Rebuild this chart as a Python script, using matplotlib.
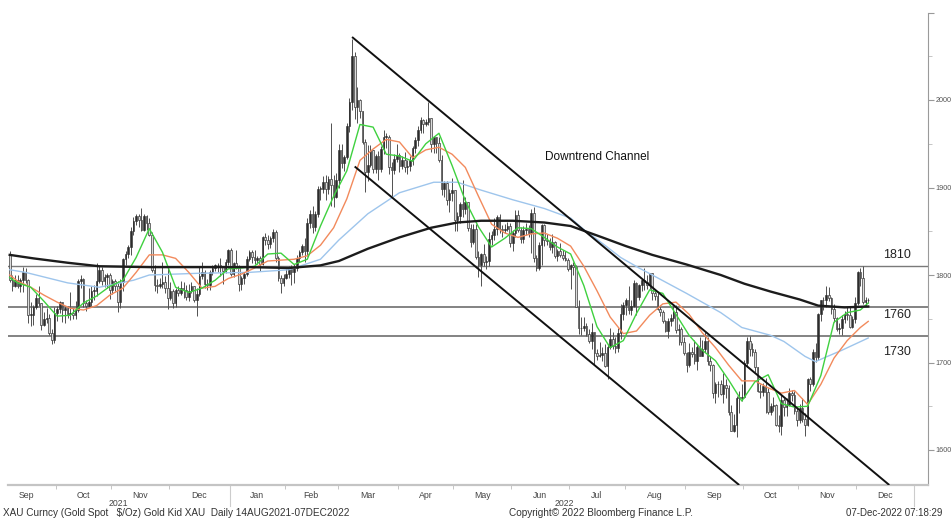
import matplotlib
matplotlib.use("Agg")

import matplotlib.pyplot as plt
import matplotlib.transforms as mtransforms
import numpy as np
import pandas as pd

START = "2021-09-07"
END = "2022-12-07"

first_open = 1823

# daily closes, one row per month (Sep 2021 .. Dec 2022)
closes = [
    1794, 1788, 1794, 1788, 1794, 1804, 1794, 1754, 1754, 1764, 1774, 1768, 1743, 1750, 1751, 1734, 1726, 1757,
    1761, 1769, 1760, 1762, 1756, 1757, 1754, 1760, 1793, 1796, 1768, 1765, 1769, 1782, 1782, 1793, 1806, 1793, 1798, 1800, 1783,
    1793, 1788, 1769, 1792, 1818, 1824, 1832, 1850, 1862, 1868, 1863, 1851, 1868, 1860, 1846, 1806, 1789, 1788, 1790, 1792, 1785, 1774,
    1782, 1768, 1783, 1779, 1785, 1783, 1775, 1782, 1787, 1771, 1778, 1799, 1804, 1790, 1789, 1803, 1808, 1811, 1811, 1810, 1805, 1815, 1829,
    1801, 1814, 1810, 1790, 1797, 1801, 1818, 1826, 1821, 1817, 1819, 1813, 1843, 1840, 1835, 1842, 1849, 1819, 1797, 1791, 1797,
    1801, 1807, 1804, 1808, 1820, 1826, 1833, 1827, 1859, 1870, 1855, 1870, 1898, 1898, 1906, 1898, 1910, 1903, 1889, 1909,
    1943, 1928, 1935, 1970, 1998, 2050, 1992, 2000, 1988, 1952, 1918, 1926, 1943, 1921, 1936, 1921, 1944, 1958, 1958, 1923, 1920, 1933, 1937,
    1925, 1932, 1923, 1925, 1931, 1945, 1954, 1966, 1977, 1973, 1975, 1979, 1950, 1958, 1951, 1932, 1898, 1905, 1886, 1894, 1897,
    1863, 1868, 1881, 1876, 1883, 1854, 1838, 1853, 1821, 1811, 1824, 1815, 1816, 1841, 1846, 1853, 1866, 1853, 1851, 1853, 1856, 1837,
    1848, 1869, 1851, 1841, 1852, 1853, 1848, 1871, 1819, 1808, 1834, 1857, 1840, 1839, 1832, 1838, 1822, 1827, 1823, 1820, 1817, 1807,
    1811, 1809, 1764, 1739, 1740, 1742, 1733, 1725, 1735, 1711, 1708, 1709, 1711, 1696, 1718, 1727, 1719, 1717, 1734, 1756, 1766,
    1772, 1760, 1765, 1791, 1775, 1789, 1794, 1792, 1789, 1802, 1779, 1776, 1761, 1758, 1747, 1736, 1748, 1751, 1758, 1737, 1738, 1723, 1711,
    1697, 1712, 1710, 1702, 1718, 1708, 1716, 1725, 1702, 1697, 1665, 1675, 1675, 1664, 1674, 1671, 1644, 1622, 1629, 1660, 1660, 1661,
    1699, 1725, 1716, 1712, 1695, 1668, 1666, 1673, 1666, 1644, 1650, 1652, 1629, 1627, 1657, 1649, 1652, 1665, 1663, 1645, 1634,
    1648, 1635, 1629, 1681, 1676, 1712, 1706, 1755, 1771, 1771, 1777, 1774, 1761, 1751, 1738, 1740, 1750, 1755, 1754, 1741, 1750, 1768,
    1803, 1797, 1769, 1771, 1771,
]

highs = [
    1827, 1800, 1800, 1800, 1797, 1809, 1808, 1796, 1769, 1766, 1778, 1787, 1768, 1758, 1762, 1755, 1738, 1764,
    1765, 1770, 1769, 1765, 1765, 1781, 1762, 1770, 1796, 1800, 1797, 1772, 1785, 1788, 1789, 1814, 1810, 1809, 1801, 1802, 1802,
    1796, 1795, 1793, 1796, 1820, 1828, 1834, 1855, 1866, 1870, 1870, 1877, 1870, 1869, 1865, 1849, 1811, 1796, 1797, 1815, 1799, 1808,
    1792, 1784, 1785, 1787, 1793, 1792, 1789, 1790, 1792, 1788, 1785, 1810, 1815, 1806, 1796, 1806, 1812, 1813, 1814, 1819, 1808, 1818, 1830,
    1831, 1815, 1829, 1811, 1799, 1804, 1822, 1829, 1829, 1829, 1822, 1822, 1845, 1848, 1846, 1845, 1853, 1852, 1822, 1800, 1801,
    1807, 1810, 1812, 1813, 1823, 1829, 1836, 1842, 1865, 1874, 1879, 1873, 1902, 1902, 1913, 1914, 1913, 1974, 1914, 1917,
    1950, 1950, 1937, 1974, 2002, 2070, 2055, 2015, 2001, 1986, 1955, 1949, 1949, 1943, 1938, 1942, 1948, 1966, 1962, 1960, 1929, 1938, 1950,
    1940, 1936, 1941, 1932, 1936, 1948, 1958, 1970, 1981, 1978, 1978, 1998, 1980, 1959, 1958, 1958, 1937, 1907, 1907, 1898, 1911,
    1896, 1872, 1884, 1909, 1889, 1884, 1858, 1858, 1858, 1827, 1825, 1835, 1822, 1849, 1850, 1865, 1869, 1870, 1857, 1858, 1861, 1859,
    1852, 1874, 1874, 1855, 1856, 1860, 1857, 1875, 1878, 1823, 1838, 1858, 1858, 1847, 1842, 1847, 1839, 1830, 1837, 1829, 1827, 1820,
    1813, 1815, 1812, 1771, 1752, 1752, 1745, 1738, 1745, 1735, 1716, 1724, 1718, 1721, 1721, 1739, 1735, 1729, 1740, 1767, 1769,
    1774, 1788, 1771, 1794, 1792, 1790, 1796, 1808, 1800, 1802, 1802, 1782, 1780, 1766, 1760, 1749, 1751, 1755, 1765, 1766, 1744, 1741, 1729,
    1712, 1722, 1718, 1726, 1720, 1729, 1726, 1735, 1729, 1708, 1698, 1678, 1679, 1680, 1688, 1681, 1674, 1652, 1641, 1662, 1667, 1675,
    1703, 1729, 1730, 1722, 1715, 1695, 1675, 1677, 1682, 1671, 1654, 1661, 1653, 1640, 1663, 1660, 1659, 1671, 1669, 1667, 1648,
    1653, 1659, 1642, 1682, 1684, 1716, 1722, 1757, 1772, 1775, 1787, 1786, 1775, 1767, 1752, 1745, 1754, 1759, 1763, 1765, 1753, 1775,
    1805, 1808, 1810, 1775, 1774,
]

lows = [
    1792, 1782, 1786, 1785, 1781, 1781, 1791, 1745, 1742, 1743, 1761, 1765, 1737, 1742, 1745, 1732, 1721, 1722,
    1747, 1757, 1746, 1745, 1751, 1749, 1750, 1750, 1758, 1785, 1764, 1759, 1764, 1765, 1772, 1776, 1791, 1789, 1786, 1785, 1773,
    1778, 1782, 1758, 1762, 1782, 1811, 1820, 1823, 1846, 1857, 1855, 1850, 1850, 1852, 1845, 1803, 1782, 1780, 1785, 1785, 1779, 1761,
    1771, 1762, 1763, 1776, 1777, 1774, 1772, 1770, 1780, 1769, 1753, 1776, 1795, 1785, 1783, 1783, 1800, 1805, 1803, 1799, 1790, 1802, 1811,
    1799, 1798, 1807, 1782, 1783, 1790, 1799, 1816, 1814, 1813, 1813, 1805, 1811, 1834, 1830, 1831, 1838, 1815, 1793, 1780, 1788,
    1795, 1797, 1789, 1791, 1805, 1815, 1823, 1815, 1822, 1854, 1848, 1850, 1866, 1886, 1894, 1886, 1893, 1879, 1878, 1888,
    1900, 1922, 1919, 1933, 1964, 1989, 1978, 1974, 1979, 1950, 1895, 1907, 1923, 1917, 1917, 1909, 1918, 1938, 1945, 1916, 1890, 1915, 1929,
    1918, 1921, 1918, 1915, 1919, 1926, 1939, 1947, 1962, 1962, 1970, 1972, 1941, 1940, 1939, 1929, 1891, 1889, 1880, 1872, 1885,
    1850, 1850, 1860, 1866, 1870, 1850, 1832, 1835, 1818, 1798, 1787, 1810, 1807, 1810, 1834, 1840, 1846, 1848, 1843, 1848, 1850, 1832,
    1828, 1843, 1849, 1837, 1837, 1846, 1843, 1825, 1815, 1805, 1806, 1811, 1833, 1834, 1829, 1825, 1820, 1816, 1821, 1817, 1816, 1805,
    1784, 1800, 1763, 1733, 1732, 1736, 1730, 1722, 1715, 1697, 1703, 1706, 1702, 1695, 1681, 1715, 1716, 1711, 1712, 1727, 1749,
    1754, 1755, 1754, 1763, 1754, 1772, 1782, 1783, 1784, 1784, 1771, 1772, 1760, 1753, 1745, 1735, 1728, 1742, 1748, 1734, 1720, 1720, 1709,
    1689, 1695, 1706, 1698, 1691, 1707, 1709, 1712, 1697, 1690, 1660, 1654, 1661, 1663, 1654, 1660, 1640, 1622, 1621, 1615, 1642, 1656,
    1660, 1695, 1707, 1707, 1689, 1666, 1659, 1662, 1642, 1641, 1640, 1645, 1628, 1621, 1617, 1639, 1639, 1650, 1656, 1641, 1627,
    1631, 1632, 1616, 1628, 1668, 1673, 1701, 1703, 1747, 1760, 1764, 1770, 1755, 1746, 1736, 1733, 1732, 1745, 1749, 1740, 1740, 1745,
    1766, 1787, 1767, 1765, 1768,
]

# moving averages at weekly points (start, Fridays, last day)
ma_fridays = [d.strftime("%Y-%m-%d") for d in pd.date_range("2021-09-10", "2022-12-02", freq="W-FRI")]
ma_dates = [START] + ma_fridays + [END]

ma_green = [
    1797,
    1791, 1786, 1770,
    1753, 1754, 1768, 1776, 1787,
    1794, 1820, 1853, 1826,
    1786, 1780, 1785, 1794, 1807,
    1808, 1810, 1824, 1825,
    1812, 1818, 1856, 1890,
    1919, 1972, 1969, 1938,
    1936, 1930, 1950, 1962, 1925,
    1885, 1855, 1832, 1842,
    1854, 1853, 1843, 1832,
    1824, 1788, 1741, 1717, 1725,
    1756, 1783, 1779, 1755,
    1731, 1714, 1702, 1680, 1656,
    1678, 1686, 1653, 1649,
    1650, 1685, 1746, 1757,
    1760,
    1768,
]

ma_orange = [
    1800,
    1793, 1786, 1777,
    1769, 1762, 1760, 1765, 1777,
    1785, 1803, 1823, 1823,
    1819, 1803, 1785, 1787, 1796,
    1801, 1808, 1816, 1817,
    1818, 1822, 1834, 1854,
    1887, 1931, 1944, 1955,
    1952, 1934, 1943, 1946, 1938,
    1923, 1890, 1858, 1848,
    1843, 1847, 1848, 1842,
    1833, 1810, 1782, 1752, 1733,
    1736, 1754, 1767, 1769,
    1755, 1734, 1717, 1697, 1679,
    1679, 1671, 1665, 1668,
    1652, 1675, 1705, 1725,
    1740,
    1747,
]

blue_dates = [
    "2021-09-07", "2021-09-15", "2021-10-07", "2021-10-25", "2021-11-11", "2021-11-19",
    "2021-12-16", "2022-01-12", "2022-02-02", "2022-02-18", "2022-03-01", "2022-03-16",
    "2022-04-01", "2022-04-20", "2022-05-03", "2022-05-16", "2022-06-01", "2022-06-17",
    "2022-07-01", "2022-07-08", "2022-07-20", "2022-07-28", "2022-08-08", "2022-08-15",
    "2022-09-01", "2022-09-20", "2022-09-30", "2022-10-17", "2022-10-24", "2022-11-03",
    "2022-11-09", "2022-11-14", "2022-11-23", "2022-12-07",
]
ma_blue = [
    1806, 1803, 1791, 1786, 1794, 1800,
    1802, 1803, 1806, 1818, 1840, 1870,
    1894, 1906, 1906, 1897, 1886, 1876,
    1865, 1852, 1834, 1820, 1808, 1800,
    1779, 1757, 1740, 1731, 1724, 1707,
    1701, 1705, 1714, 1728,
]

black_dates = [
    "2021-09-07", "2021-09-20", "2021-10-07", "2021-10-25", "2021-11-19", "2021-12-16",
    "2022-01-12", "2022-02-02", "2022-02-18", "2022-03-01", "2022-03-16", "2022-04-01",
    "2022-04-19", "2022-05-03", "2022-05-16", "2022-06-01", "2022-06-17", "2022-07-01",
    "2022-07-19", "2022-08-01", "2022-08-15", "2022-09-01", "2022-09-20", "2022-10-03",
    "2022-10-17", "2022-11-01", "2022-11-10", "2022-11-24", "2022-12-07",
]
ma_black = [
    1823, 1819, 1814, 1810, 1809, 1809,
    1809, 1808, 1811, 1816, 1830, 1843,
    1854, 1860, 1862, 1862, 1860, 1856,
    1843, 1833, 1823, 1812, 1800, 1790,
    1781, 1772, 1765, 1763, 1764,
]

# downtrend channel anchors (date, price)
channel_upper = [("2022-03-08", 2072), ("2022-12-19", 1560)]
channel_lower = [("2022-03-09", 1924), ("2022-09-29", 1560)]

levels = [1810, 1764, 1730]
level_labels = ["1810", "1760", "1730"]
level_label_y = [1823, 1754, 1712]

y_ticks = [1600, 1700, 1800, 1900, 2000, 2100]
y_labels = ["1600", "1700", "1800", "1900", "2000", ""]

months = pd.period_range("2021-09", "2022-12", freq="M")


def pos_of(dates):
    d = pd.to_datetime(pd.Series(dates)).values.astype("datetime64[D]")
    return np.busday_count(np.datetime64(START, "D"), d)


def draw_candles(ax):
    c = np.array(closes, dtype=float)
    o = np.concatenate([[first_open], c[:-1]])
    h = np.maximum.reduce([np.array(highs, dtype=float), o, c])
    l = np.minimum.reduce([np.array(lows, dtype=float), o, c])
    x = np.arange(len(c))
    up = c >= o

    ax.vlines(x, l, h, color="#505050", lw=0.7, zorder=3)
    body = np.maximum(np.abs(c - o), 0.9)
    bottom = np.minimum(o, c)
    ax.bar(x[up], body[up], bottom=bottom[up], width=0.62,
           color="#2c2c2c", edgecolor="#2c2c2c", lw=0.4, zorder=4)
    ax.bar(x[~up], body[~up], bottom=bottom[~up], width=0.62,
           color="#dcdcdc", edgecolor="#3a3a3a", lw=0.5, zorder=4)


def main() -> None:
    plt.rcParams["font.family"] = ["Liberation Sans", "DejaVu Sans"]

    fig = plt.figure(figsize=(9.52, 5.2), dpi=100)
    ax = fig.add_axes([8 / 952, 35 / 520, 920 / 952, 472.5 / 520])

    n_days = len(pd.bdate_range(START, END))
    print("days:", n_days, "closes:", len(closes), "highs:", len(highs), "lows:", len(lows))
    print("ma:", len(ma_dates), len(ma_green), len(ma_orange))

    for lvl in levels:
        ax.axhline(lvl, color="#7a7a7a", lw=1.3 if lvl != 1810 else 1.0, zorder=1)

    draw_candles(ax)

    ax.plot(pos_of(blue_dates), ma_blue, color="#9ec5ec", lw=1.0, zorder=5)
    ax.plot(pos_of(ma_dates), ma_orange, color="#f28a5c", lw=1.0, zorder=5)
    ax.plot(pos_of(ma_dates), ma_green, color="#3fd13f", lw=1.0, zorder=5)
    ax.plot(pos_of(black_dates), ma_black, color="#1c1c1c", lw=1.7, zorder=6)

    for chan in (channel_upper, channel_lower):
        ax.plot(pos_of([p[0] for p in chan]), [p[1] for p in chan],
                color="#111111", lw=1.4, zorder=7, solid_capstyle="butt")

    ax.set_xlim(-0.65, 348.7)
    ax.set_ylim(1560, 2100)

    # right price axis
    ax.yaxis.tick_right()
    ax.set_yticks(y_ticks)
    ax.set_yticklabels(y_labels)
    ax.set_yticks(np.arange(1650, 2100, 100), minor=True)
    ax.tick_params(axis="y", which="major", length=4, width=0.8, color="#999999",
                   labelsize=5.2, labelcolor="#555555", pad=1.5)
    ax.tick_params(axis="y", which="minor", length=3, width=0.6, color="#bbbbbb")

    # month labels centred in each month, small marks at month boundaries
    centers, bounds, names = [], [], []
    for m in months:
        days = pd.bdate_range(m.start_time, m.end_time)
        p = pos_of(days)
        centers.append((p[0] + p[-1]) / 2)
        bounds.append(p[0] - 0.5)
        names.append(m.strftime("%b"))
    ax.set_xticks(centers)
    ax.set_xticklabels(names)
    ax.set_xticks(bounds[1:], minor=True)
    ax.tick_params(axis="x", which="major", length=0, labelsize=6.3,
                   labelcolor="#444444", pad=4)
    ax.tick_params(axis="x", which="minor", length=3, width=0.6, color="#bbbbbb")

    for s in ("top", "left"):
        ax.spines[s].set_visible(False)
    ax.spines["right"].set_color("#9a9a9a")
    ax.spines["right"].set_linewidth(0.8)
    ax.spines["bottom"].set_color("#c4c4c4")
    ax.spines["bottom"].set_linewidth(1.6)

    trans = mtransforms.blended_transform_factory(ax.transData, ax.transAxes)
    year_starts = pos_of(["2022-01-03", "2023-01-02"]) - 0.5
    for xs in year_starts:
        ax.plot([xs, xs], [0, -0.045], transform=trans, color="#cccccc",
                lw=0.8, clip_on=False)
    ax.text((-0.65 + year_starts[0]) / 2, -0.039, "2021", transform=trans,
            ha="center", va="center", fontsize=6.3, color="#444444")
    ax.text((year_starts[0] + year_starts[1]) / 2 - 3, -0.039, "2022", transform=trans,
            ha="center", va="center", fontsize=6.3, color="#444444")

    ltrans = mtransforms.blended_transform_factory(ax.transAxes, ax.transData)
    for lab, ly in zip(level_labels, level_label_y):
        ax.text(0.966, ly, lab, transform=ltrans, ha="center", va="center",
                fontsize=9, color="#222222", zorder=8)

    ax.text(0.640, 0.694, "Downtrend Channel", transform=ax.transAxes,
            ha="center", va="center", fontsize=8.5, color="#111111")

    fig.text(3 / 952, 7 / 520, "XAU Curncy (Gold Spot   $/Oz) Gold Kid XAU  Daily 14AUG2021-07DEC2022",
             ha="left", va="center", fontsize=7.2, color="#333333")
    fig.text(509 / 952, 7 / 520, "Copyright\u00a9 2022 Bloomberg Finance L.P.",
             ha="left", va="center", fontsize=7.2, color="#333333")
    fig.text(846 / 952, 7 / 520, "07-Dec-2022 07:18:29",
             ha="left", va="center", fontsize=7.0, color="#333333")

    fig.savefig("out.png", dpi=100, facecolor="white")
    plt.close(fig)


if __name__ == "__main__":
    main()
